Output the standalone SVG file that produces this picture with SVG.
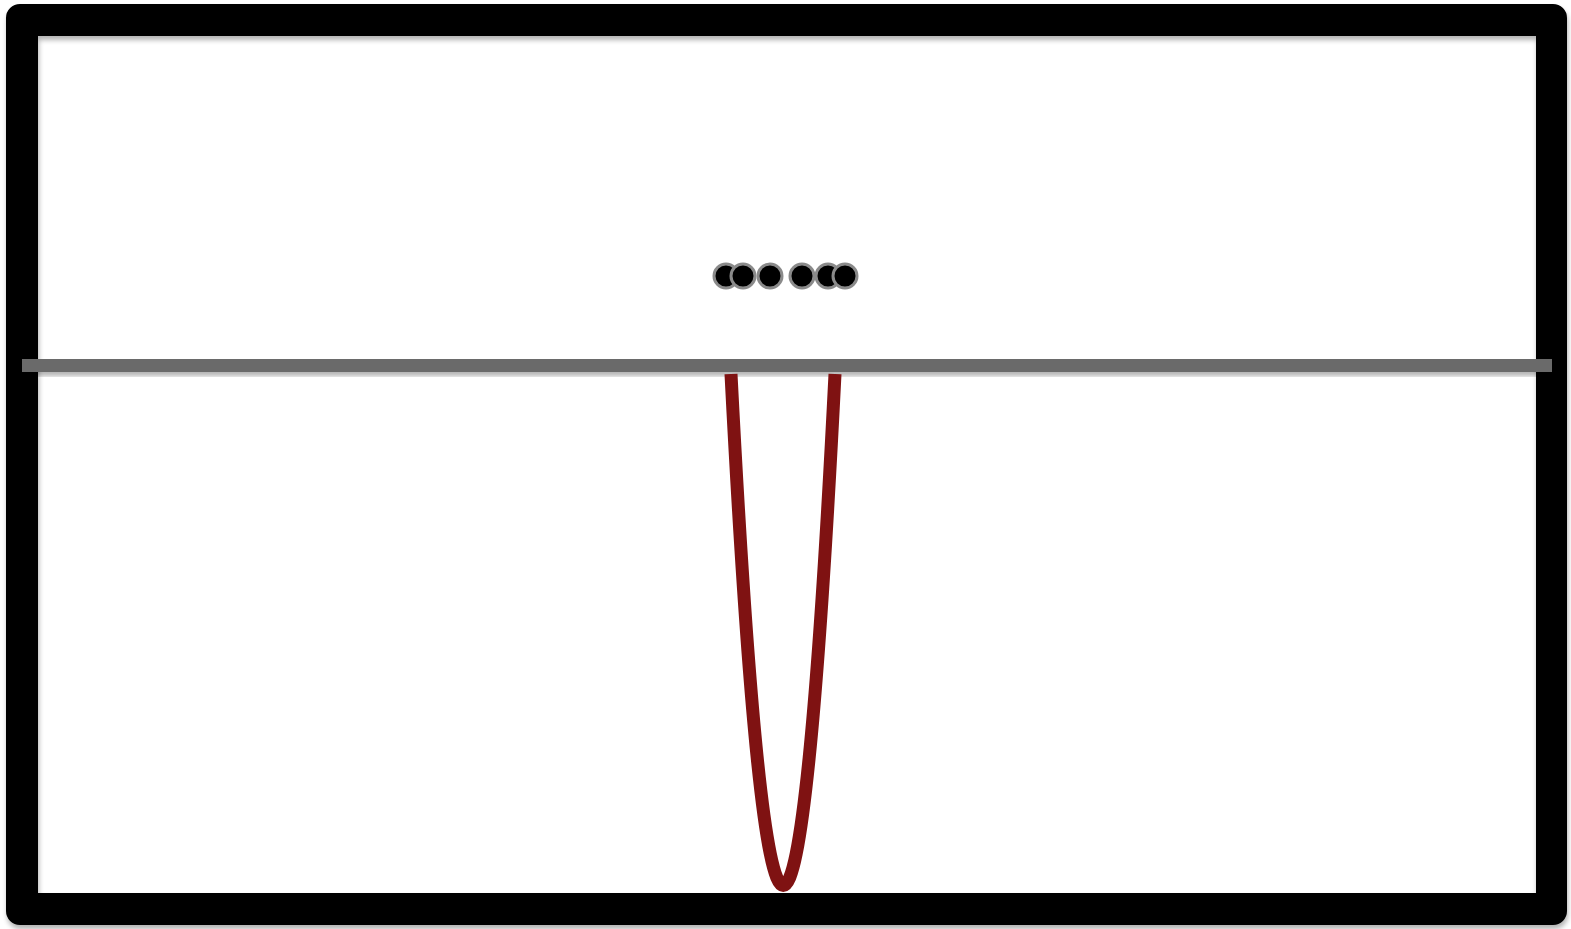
<svg xmlns="http://www.w3.org/2000/svg" width="1571" height="929" viewBox="0 0 1571 929">
<defs>
<style>
.dot{fill:#000;stroke:#8a8a8a;stroke-width:3}
</style>
<filter id="sh" x="-5%" y="-5%" width="110%" height="140%">
<feGaussianBlur in="SourceAlpha" stdDeviation="2.5"/>
<feOffset dx="1" dy="4"/>
<feComponentTransfer><feFuncA type="linear" slope="0.3"/></feComponentTransfer>
<feMerge><feMergeNode/><feMergeNode in="SourceGraphic"/></feMerge>
</filter>
</defs>
<rect width="1571" height="929" fill="#fff"/>
<g id="frame" filter="url(#sh)">
<path fill="#000" fill-rule="evenodd" d="M20,4 H1553 A14,14 0 0 1 1567,18 V911 A14,14 0 0 1 1553,925 H20 A14,14 0 0 1 6,911 V18 A14,14 0 0 1 20,4 Z M38,36 V893 H1536 V36 Z"/>
</g>
<g id="bar" filter="url(#sh)">
<rect x="22" y="359" width="1530" height="13" fill="#6b6b6b"/>
</g>
<g id="connectors">
<path d="M731,374 Q783.5,1397 835,374" fill="none" stroke="#7f1212" stroke-width="13" stroke-linejoin="round"/>
</g>
<g id="dots">
<circle id="d1" class="dot" cx="726" cy="276" r="12"/>
<circle id="d2" class="dot" cx="743" cy="276" r="12"/>
<circle id="d3" class="dot" cx="770" cy="276" r="12"/>
<circle id="d4" class="dot" cx="802" cy="276" r="12"/>
<circle id="d5" class="dot" cx="828" cy="276" r="12"/>
<circle id="d6" class="dot" cx="845" cy="276" r="12"/>
</g>
</svg>
